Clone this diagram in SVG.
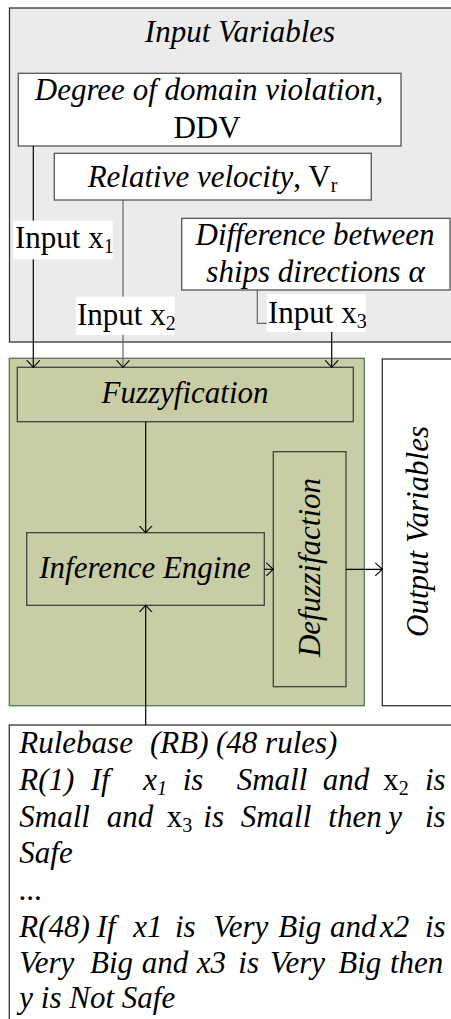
<svg xmlns="http://www.w3.org/2000/svg" width="451" height="1019" viewBox="0 0 451 1019">
<defs>
<style>
text{font-family:"Liberation Serif","Times New Roman",serif;font-size:31px;fill:#000}
.it{font-style:italic}
.sub{font-size:20px}
.box{fill:#fff;stroke:#555;stroke-width:1.3}
.gbox{fill:#c9cda6;stroke:#404040;stroke-width:1.3}
.ln{fill:none;stroke:#000;stroke-width:1.2}
.lbl{fill:#fff}
</style>
<marker id="ah" viewBox="0 0 12 14" refX="7" refY="7" markerWidth="12" markerHeight="14" markerUnits="userSpaceOnUse" orient="auto">
<path d="M0,0.5 L7,7 L0,13.5" fill="none" stroke="#000" stroke-width="1.1"/>
</marker>
</defs>

<g id="input-variables">
<rect x="9.5" y="8" width="460" height="334" fill="#ebebeb" stroke="#333" stroke-width="1.3"/>
<text class="it" x="240" y="42" text-anchor="middle">Input Variables</text>
</g>

<g id="ddv">
<rect class="box" x="18.3" y="73.3" width="382.7" height="72.7"/>
<text class="it" x="209" y="100" text-anchor="middle">Degree of domain violation,</text>
<text x="207" y="137.7" text-anchor="middle">DDV</text>
</g>

<g id="vr">
<rect class="box" x="54.3" y="153.3" width="317" height="46.7"/>
<text x="212.5" y="187" text-anchor="middle"><tspan class="it">Relative velocity</tspan>, V<tspan class="sub" dy="5">r</tspan></text>
</g>

<g id="alpha">
<rect class="box" x="181.7" y="218.3" width="268.3" height="71.7"/>
<text class="it" x="315" y="245" text-anchor="middle">Difference between</text>
<text class="it" x="315.5" y="282" text-anchor="middle">ships directions α</text>
</g>

<g id="fis">
<rect x="9.3" y="358.3" width="355" height="347.4" fill="#c9cda6" stroke="#4f7a5a" stroke-width="1.3"/>
</g>

<g id="fuzzyfication">
<rect class="gbox" x="17.3" y="367.3" width="336" height="54.4"/>
<text class="it" x="185" y="403.3" text-anchor="middle">Fuzzyfication</text>
</g>

<g id="inference">
<rect class="gbox" x="26.7" y="532.7" width="237.6" height="72.6"/>
<text class="it" x="145" y="578.3" text-anchor="middle">Inference Engine</text>
</g>

<g id="defuzz">
<rect class="gbox" x="273.3" y="451.7" width="72.7" height="235"/>
<text class="it" transform="translate(320,567.5) rotate(-90)" text-anchor="middle">Defuzzifaction</text>
</g>

<g id="output">
<rect x="382.3" y="359" width="80" height="346.7" fill="#fff" stroke="#333" stroke-width="1.3"/>
<text class="it" transform="translate(428,531.5) rotate(-90)" text-anchor="middle">Output Variables</text>
</g>

<g id="rulebase">
<rect x="9.3" y="725" width="460" height="310" fill="#fff" stroke="#333" stroke-width="1.3"/>
<text class="it"><tspan x="19.3" y="753.3">Rulebase</tspan><tspan x="150" y="753.3">(RB)</tspan><tspan x="216" y="753.3">(48 rules)</tspan></text>
<text class="it">
<tspan x="19.3" y="790">R(1)</tspan><tspan x="90.7" y="790">If</tspan><tspan x="143.3" y="790">x</tspan><tspan class="sub" y="795">1</tspan><tspan x="182.7" y="790">is</tspan><tspan x="236.7" y="790">Small</tspan><tspan x="322.7" y="790">and</tspan><tspan x="383.3" y="790" font-style="normal">x</tspan><tspan class="sub" y="795" font-style="normal">2</tspan><tspan x="425" y="790">is</tspan>
</text>
<text class="it">
<tspan x="19.3" y="826.7">Small</tspan><tspan x="106.7" y="826.7">and</tspan><tspan x="166.7" y="826.7" font-style="normal">x</tspan><tspan class="sub" y="831.7" font-style="normal">3</tspan><tspan x="203.3" y="826.7">is</tspan><tspan x="240.7" y="826.7">Small</tspan><tspan x="328.3" y="826.7">then</tspan><tspan x="388.3" y="826.7">y</tspan><tspan x="425" y="826.7">is</tspan>
</text>
<text class="it" x="19.3" y="863.3">Safe</text>
<text class="it" x="19.3" y="900">...</text>
<text class="it">
<tspan x="19.3" y="936.7">R(48)</tspan><tspan x="96.7" y="936.7">If</tspan><tspan x="133.3" y="936.7">x1</tspan><tspan x="175" y="936.7">is</tspan><tspan x="213.3" y="936.7">Very</tspan><tspan x="278.3" y="936.7">Big</tspan><tspan x="330" y="936.7">and</tspan><tspan x="380" y="936.7">x2</tspan><tspan x="425" y="936.7">is</tspan>
</text>
<text class="it">
<tspan x="19.3" y="973.3">Very</tspan><tspan x="90" y="973.3">Big</tspan><tspan x="141.7" y="973.3">and</tspan><tspan x="196.7" y="973.3">x3</tspan><tspan x="238.3" y="973.3">is</tspan><tspan x="270" y="973.3">Very</tspan><tspan x="338.3" y="973.3">Big</tspan><tspan x="390" y="973.3">then</tspan>
</text>
<text class="it" x="19.3" y="1008.3">y is Not Safe</text>
</g>

<g id="connectors">
<line class="ln" x1="33.3" y1="146" x2="33.3" y2="367.3" marker-end="url(#ah)"/>
<line class="ln" x1="123" y1="200" x2="123" y2="367.3" style="stroke:#666" marker-end="url(#ah)"/>
<path class="ln" d="M257.3,290 V323.3 H267" style="stroke:#666"/>
<line class="ln" x1="331.7" y1="332" x2="331.7" y2="367.3" marker-end="url(#ah)"/>
<line class="ln" x1="145.7" y1="421.7" x2="145.7" y2="532.7" marker-end="url(#ah)"/>
<line class="ln" x1="264.3" y1="569.3" x2="273.3" y2="569.3" marker-end="url(#ah)"/>
<line class="ln" x1="346" y1="569.3" x2="382.3" y2="569.3" marker-end="url(#ah)"/>
<line class="ln" x1="145.7" y1="725" x2="145.7" y2="605.3" marker-end="url(#ah)"/>
</g>

<g id="input-labels">
<rect class="lbl" x="13.3" y="220.7" width="99.4" height="38.6"/>
<text x="15" y="248">Input x<tspan class="sub" dy="5">1</tspan></text>
<rect class="lbl" x="76" y="296.7" width="98.7" height="38.3"/>
<text x="77" y="325">Input x<tspan class="sub" dy="5">2</tspan></text>
<rect class="lbl" x="266.7" y="294" width="99" height="38"/>
<text x="268" y="322.7">Input x<tspan class="sub" dy="5">3</tspan></text>
</g>
</svg>
